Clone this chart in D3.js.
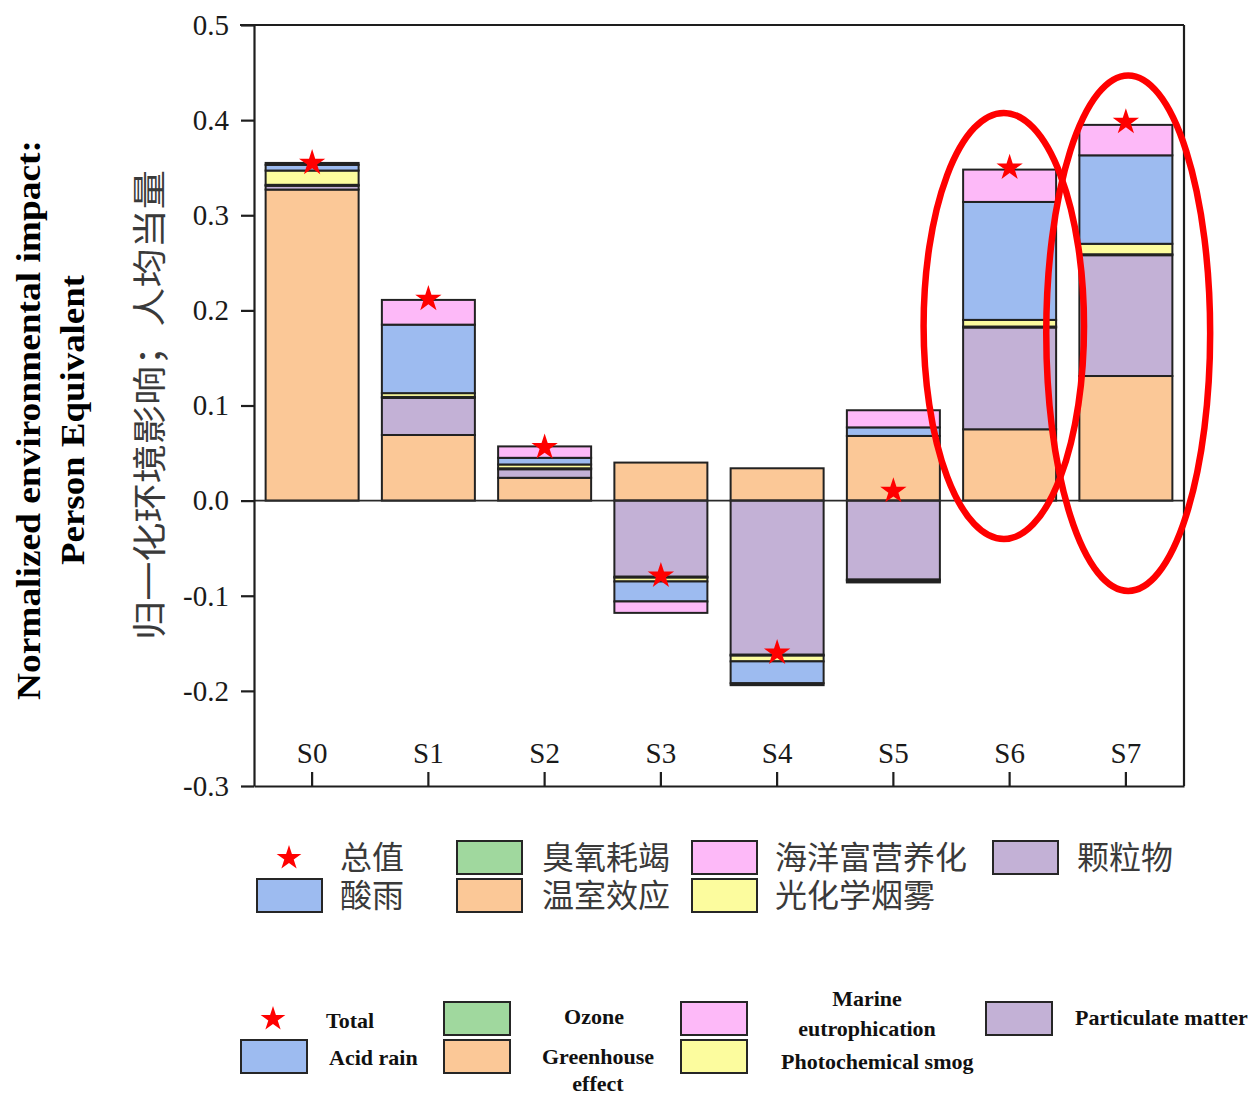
<!DOCTYPE html>
<html>
<head>
<meta charset="utf-8">
<script src="https://cdn.jsdelivr.net/npm/d3@7"></script>
<style>
  html, body { margin: 0; padding: 0; background: #ffffff; }
  svg { display: block; }
</style>
</head>
<body>
<script>
// Scenarios on the x axis
const categories = ["S0", "S1", "S2", "S3", "S4", "S5", "S6", "S7"];

// Normalized impact per category (person equivalent)
const greenhouse  = [0.327, 0.069, 0.024, 0.040, 0.034, 0.068, 0.075, 0.131];
const particulate = [0.004, 0.039, 0.009, -0.080, -0.162, -0.083, 0.107, 0.127];
const ozone       = [0.001, 0.001, 0.001, -0.001, -0.001, -0.001, 0.001, 0.001];
const smog        = [0.015, 0.004, 0.004, -0.004, -0.006, -0.002, 0.007, 0.011];
const acidRain    = [0.006, 0.072, 0.007, -0.021, -0.023, 0.009, 0.124, 0.093];
const marine      = [0.002, 0.026, 0.012, -0.012, -0.002, 0.018, 0.034, 0.032];
const total       = [0.355, 0.212, 0.056, -0.079, -0.160, 0.010, 0.350, 0.398];

// Y axis ticks
const yTicks = [-0.3, -0.2, -0.1, 0.0, 0.1, 0.2, 0.3, 0.4, 0.5];

// Highlighted scenarios: centre value and half-height in data units
const highlights = [
  { cat: "S6", shift: -0.05, center: 0.1836, half: 0.224, halfBand: 0.69 },
  { cat: "S7", shift: 0.02,  center: 0.176,  half: 0.271, halfBand: 0.705 }
];

const seriesKeys = ["greenhouse", "particulate", "ozone", "smog", "acidRain", "marine"];
const seriesValues = { greenhouse, particulate, ozone, smog, acidRain, marine };
const colors = {
  greenhouse: "#fbc897",
  particulate: "#c3b1d6",
  ozone: "#a0d89e",
  smog: "#fcfc9e",
  acidRain: "#9dbbf0",
  marine: "#fdb9f8"
};

const W = 1254, H = 1097;
const plot = { left: 254, right: 1184, top: 25, bottom: 786 };
const serif = '"Times New Roman", "Liberation Serif", serif';
const cjk = '"Noto Sans CJK SC", "Noto Sans CJK JP", sans-serif';

const svg = d3.select("body").append("svg").attr("width", W).attr("height", H);

const x = d3.scaleBand().domain(categories)
  .range([plot.left, plot.right]).paddingInner(0.2).paddingOuter(0.1);
const y = d3.scaleLinear().domain([-0.3, 0.5]).range([plot.bottom, plot.top]);

// Stacked bars, positives upward and negatives downward
const rows = categories.map((c, i) => {
  const r = { cat: c };
  seriesKeys.forEach(k => { r[k] = seriesValues[k][i]; });
  return r;
});
const stacked = d3.stack().keys(seriesKeys).offset(d3.stackOffsetDiverging)(rows);

const barG = svg.append("g");
stacked.forEach(layer => {
  barG.selectAll(null)
    .data(layer.filter(d => d[1] !== d[0]))
    .join("rect")
    .attr("x", d => x(d.data.cat))
    .attr("width", x.bandwidth())
    .attr("y", d => Math.min(y(d[0]), y(d[1])))
    .attr("height", d => Math.abs(y(d[0]) - y(d[1])))
    .attr("fill", colors[layer.key])
    .attr("stroke", "#222")
    .attr("stroke-width", 2);
});

// Zero line
svg.append("line")
  .attr("x1", plot.left).attr("x2", plot.right)
  .attr("y1", y(0)).attr("y2", y(0))
  .attr("stroke", "#2a2a2a").attr("stroke-width", 1.6);

// Frame: top and right edges
svg.append("line")
  .attr("x1", plot.left - 14).attr("x2", plot.right)
  .attr("y1", plot.top).attr("y2", plot.top)
  .attr("stroke", "#1e1e1e").attr("stroke-width", 2.2);
svg.append("line")
  .attr("x1", plot.right).attr("x2", plot.right)
  .attr("y1", plot.top).attr("y2", plot.bottom)
  .attr("stroke", "#1e1e1e").attr("stroke-width", 2.2);

// Left axis
const yAxis = svg.append("g")
  .attr("transform", `translate(${plot.left},0)`)
  .call(d3.axisLeft(y).tickValues(yTicks).tickFormat(d => d.toFixed(1))
    .tickSizeInner(13).tickSizeOuter(0).tickPadding(12));
yAxis.select(".domain").attr("stroke", "#1e1e1e").attr("stroke-width", 2.2);
yAxis.selectAll(".tick line").attr("stroke", "#1e1e1e").attr("stroke-width", 2.2);
yAxis.selectAll(".tick text")
  .attr("font-family", serif).attr("font-size", 29).attr("fill", "#1a1a1a");

// Bottom axis with inward ticks and labels inside the plot
const xAxis = svg.append("g")
  .attr("transform", `translate(0,${plot.bottom})`)
  .call(d3.axisBottom(x).tickSizeInner(-14).tickSizeOuter(0));
xAxis.select(".domain").attr("stroke", "#1e1e1e").attr("stroke-width", 2.2);
xAxis.selectAll(".tick line").attr("stroke", "#1e1e1e").attr("stroke-width", 2.2);
xAxis.selectAll(".tick text")
  .attr("y", -23).attr("dy", 0)
  .attr("font-family", serif).attr("font-size", 29).attr("fill", "#1a1a1a");

// Total markers
const star = d3.symbol(d3.symbolStar, 215);
svg.append("g").selectAll("path")
  .data(categories.map((c, i) => ({ cat: c, v: total[i] })))
  .join("path")
  .attr("d", star)
  .attr("transform", d => `translate(${x(d.cat) + x.bandwidth() / 2},${y(d.v)})`)
  .attr("fill", "#ff0000");

// Highlight rings around S6 and S7
svg.append("g").selectAll("ellipse")
  .data(highlights)
  .join("ellipse")
  .attr("cx", d => x(d.cat) + x.bandwidth() / 2 + d.shift * x.step())
  .attr("cy", d => y(d.center))
  .attr("rx", d => d.halfBand * x.step())
  .attr("ry", d => y(d.center - d.half) - y(d.center))
  .attr("fill", "none")
  .attr("stroke", "#ff0000")
  .attr("stroke-width", 6.5);

// Axis titles
svg.append("text")
  .attr("transform", `translate(162,405) rotate(-90)`)
  .attr("text-anchor", "middle")
  .attr("font-family", cjk).attr("font-size", 34).attr("fill", "#3a3a3a")
  .attr("textLength", 470).attr("lengthAdjust", "spacingAndGlyphs")
  .text("归一化环境影响；人均当量");
svg.append("text")
  .attr("transform", `translate(40,420) rotate(-90)`)
  .attr("text-anchor", "middle")
  .attr("font-family", serif).attr("font-weight", "bold").attr("font-size", 34).attr("fill", "#000")
  .attr("textLength", 560).attr("lengthAdjust", "spacingAndGlyphs")
  .text("Normalized environmental impact:");
svg.append("text")
  .attr("transform", `translate(84,420) rotate(-90)`)
  .attr("text-anchor", "middle")
  .attr("font-family", serif).attr("font-weight", "bold").attr("font-size", 34).attr("fill", "#000")
  .attr("textLength", 290).attr("lengthAdjust", "spacingAndGlyphs")
  .text("Person Equivalent");

// Chinese legend
const legendCn = [
  { key: "total",       label: "总值",        sx: 257, tx: 340, row: 0 },
  { key: "ozone",       label: "臭氧耗竭",    sx: 457, tx: 542, row: 0 },
  { key: "marine",      label: "海洋富营养化", sx: 692, tx: 775, row: 0 },
  { key: "particulate", label: "颗粒物",      sx: 993, tx: 1077, row: 0 },
  { key: "acidRain",    label: "酸雨",        sx: 257, tx: 340, row: 1 },
  { key: "greenhouse",  label: "温室效应",    sx: 457, tx: 542, row: 1 },
  { key: "smog",        label: "光化学烟雾",  sx: 692, tx: 775, row: 1 }
];
const cnRowTop = [841, 879];
const cnG = svg.append("g");
legendCn.forEach(d => {
  const top = cnRowTop[d.row];
  if (d.key === "total") {
    cnG.append("path").attr("d", d3.symbol(d3.symbolStar, 190))
      .attr("transform", `translate(${d.sx + 32},${top + 17})`).attr("fill", "#ff0000");
  } else {
    cnG.append("rect").attr("x", d.sx).attr("y", top).attr("width", 65).attr("height", 33)
      .attr("fill", colors[d.key]).attr("stroke", "#262626").attr("stroke-width", 2);
  }
  cnG.append("text").attr("x", d.tx).attr("y", top + 28)
    .attr("font-family", cjk).attr("font-size", 32).attr("fill", "#3a3a3a")
    .text(d.label);
});

// English legend
const legendEn = [
  { key: "total",       lines: ["Total"],                    sx: 241, tx: 326, anchor: "start",  row: 0, base: [1028] },
  { key: "ozone",       lines: ["Ozone"],                    sx: 444, tx: 594, anchor: "middle", row: 0, base: [1024] },
  { key: "marine",      lines: ["Marine", "eutrophication"], sx: 681, tx: 867, anchor: "middle", row: 0, base: [1006, 1036] },
  { key: "particulate", lines: ["Particulate matter"],       sx: 986, tx: 1075, anchor: "start", row: 0, base: [1025] },
  { key: "acidRain",    lines: ["Acid rain"],                sx: 241, tx: 329, anchor: "start",  row: 1, base: [1065] },
  { key: "greenhouse",  lines: ["Greenhouse", "effect"],     sx: 444, tx: 598, anchor: "middle", row: 1, base: [1064, 1091] },
  { key: "smog",        lines: ["Photochemical smog"],       sx: 681, tx: 781, anchor: "start",  row: 1, base: [1069] }
];
const enRowTop = [1002, 1040];
const enG = svg.append("g");
legendEn.forEach(d => {
  const top = enRowTop[d.row];
  if (d.key === "total") {
    enG.append("path").attr("d", d3.symbol(d3.symbolStar, 190))
      .attr("transform", `translate(${d.sx + 32},${top + 17})`).attr("fill", "#ff0000");
  } else {
    enG.append("rect").attr("x", d.sx).attr("y", top).attr("width", 66).attr("height", 33)
      .attr("fill", colors[d.key]).attr("stroke", "#262626").attr("stroke-width", 2);
  }
  d.lines.forEach((ln, j) => {
    enG.append("text").attr("x", d.tx).attr("y", d.base[j])
      .attr("text-anchor", d.anchor)
      .attr("font-family", serif).attr("font-weight", "bold").attr("font-size", 22).attr("fill", "#111")
      .text(ln);
  });
});
</script>
</body>
</html>
